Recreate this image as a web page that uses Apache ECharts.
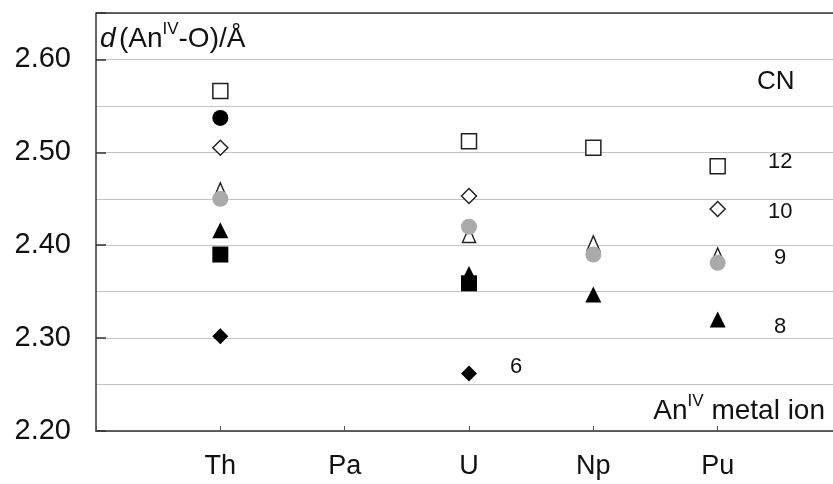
<!DOCTYPE html>
<html>
<head>
<meta charset="utf-8">
<script src="https://cdn.jsdelivr.net/npm/echarts@6/dist/echarts.min.js"></script>
<style>html,body{margin:0;padding:0;background:#fff;overflow:hidden;width:833px;height:484px}#c{width:845px;height:484px}</style>
</head>
<body>
<div id="c"></div>
<script>
// Categories (index 1..5 along the x axis)
var categories = ['', 'Th', 'Pa', 'U', 'Np', 'Pu', ''];
var yTicks = [2.20, 2.30, 2.40, 2.50, 2.60];
var yTop = 2.65;

// Series values: [category index, d(An-O) in Å]
var openSquare    = [[1, 2.566], [3, 2.512], [4, 2.505], [5, 2.485]];   // CN 12
var openDiamond   = [[1, 2.505], [3, 2.453], [5, 2.439]];               // CN 10
var openTriangle  = [[1, 2.459], [3, 2.411], [4, 2.402], [5, 2.389]];   // CN 9
var grayCircle    = [[1, 2.450], [3, 2.420], [4, 2.390], [5, 2.381]];   // CN 9
var filledCircle  = [[1, 2.537]];
var filledTriangle= [[1, 2.416], [3, 2.369], [4, 2.347], [5, 2.320]];   // CN 8
var filledSquare  = [[1, 2.390], [3, 2.359]];
var filledDiamond = [[1, 2.302], [3, 2.262]];                           // CN 6

var FONT = '"Liberation Sans", Arial, sans-serif';

function s(name, data, symbol, size, fill, stroke) {
  return {
    name: name, type: 'scatter', data: data, symbol: symbol, symbolSize: size,
    itemStyle: { color: fill, borderColor: stroke || fill, borderWidth: stroke ? 1.5 : 0, opacity: 1 },
    emphasis: { disabled: true }, z: 3
  };
}

var series = [
  s('open square', openSquare, 'rect', 15, '#fff', '#222'),
  s('open diamond', openDiamond, 'diamond', [15, 15], '#fff', '#222'),
  s('open triangle', openTriangle, 'triangle', [13, 15], '#fff', '#222'),
  s('gray circle', grayCircle, 'circle', 16, '#aaaaaa'),
  s('filled circle', filledCircle, 'circle', 16, '#000'),
  s('filled triangle', filledTriangle, 'triangle', [16, 16], '#000'),
  s('filled square', filledSquare, 'rect', 16, '#000'),
  s('filled diamond', filledDiamond, 'diamond', [16, 16], '#000')
];
// top frame line, placed through the y axis
series[0].markLine = {
  silent: true, symbol: 'none', animation: false,
  label: { show: false },
  lineStyle: { color: '#333', width: 1.5, type: 'solid' },
  data: [{ yAxis: yTop }]
};

var chart = echarts.init(document.getElementById('c'), null, { renderer: 'canvas' });
chart.setOption({
  animation: false,
  grid: { left: 96, top: 13, right: 0, bottom: 53, containLabel: false },
  xAxis: {
    type: 'value', min: 0, max: 6, interval: 1,
    axisLine: { show: true, onZero: false, lineStyle: { color: '#333', width: 1.5 } },
    axisTick: { show: true, inside: true, length: 5, lineStyle: { color: '#555' } },
    splitLine: { show: false },
    axisLabel: {
      margin: 22, fontSize: 27, color: '#111', fontFamily: FONT,
      formatter: function (v) { return categories[Math.round(v)] || ''; }
    }
  },
  yAxis: {
    type: 'value', min: 2.2, max: yTop, interval: 0.1,
    axisLine: { show: true, onZero: false, lineStyle: { color: '#333', width: 1.5 } },
    axisTick: { show: true, inside: true, length: 10, lineStyle: { color: '#333', width: 1.5 } },
    splitLine: { show: true, lineStyle: { color: '#c4c4c4', width: 1.2 } },
    minorTick: { show: false, splitNumber: 2 },
    minorSplitLine: { show: true, lineStyle: { color: '#c4c4c4', width: 1.2 } },
    axisLabel: {
      margin: 25, fontSize: 29, color: '#111', fontFamily: FONT,
      formatter: function (v) {
        for (var i = 0; i < yTicks.length; i++) if (Math.abs(v - yTicks[i]) < 1e-6) return yTicks[i].toFixed(2);
        return '';
      }
    }
  },
  series: series,
  graphic: [
    { type: 'text', left: 100, top: 21, z: 10,
      style: { text: '{i|d} {n|(An}{sup|IV}{n|-O)/Å}', fill: '#111',
        rich: {
          i: { fontSize: 28, fontStyle: 'italic', fontFamily: FONT, lineHeight: 32, verticalAlign: 'bottom' },
          n: { fontSize: 28, fontFamily: FONT, lineHeight: 32, verticalAlign: 'bottom' },
          sup: { fontSize: 17, fontFamily: FONT, lineHeight: 32, verticalAlign: 'top' }
        } } },
    { type: 'text', left: 757, top: 69, z: 10, style: { text: 'CN', fontSize: 26, fontFamily: FONT, fill: '#111' } },
    { type: 'text', left: 768, top: 151, z: 10, style: { text: '12', fontSize: 22, fontFamily: FONT, fill: '#111' } },
    { type: 'text', left: 768, top: 201, z: 10, style: { text: '10', fontSize: 22, fontFamily: FONT, fill: '#111' } },
    { type: 'text', left: 774, top: 247, z: 10, style: { text: '9', fontSize: 22, fontFamily: FONT, fill: '#111' } },
    { type: 'text', left: 774, top: 316, z: 10, style: { text: '8', fontSize: 22, fontFamily: FONT, fill: '#111' } },
    { type: 'text', left: 510, top: 356, z: 10, style: { text: '6', fontSize: 22, fontFamily: FONT, fill: '#111' } },
    { type: 'text', right: 20, top: 393, z: 10,
      style: { text: '{n|An}{sup|IV}{n| metal ion}', fill: '#111',
        rich: {
          n: { fontSize: 28, fontFamily: FONT, lineHeight: 32, verticalAlign: 'bottom' },
          sup: { fontSize: 17, fontFamily: FONT, lineHeight: 32, verticalAlign: 'top' }
        } } }
  ]
});
</script>
</body>
</html>
